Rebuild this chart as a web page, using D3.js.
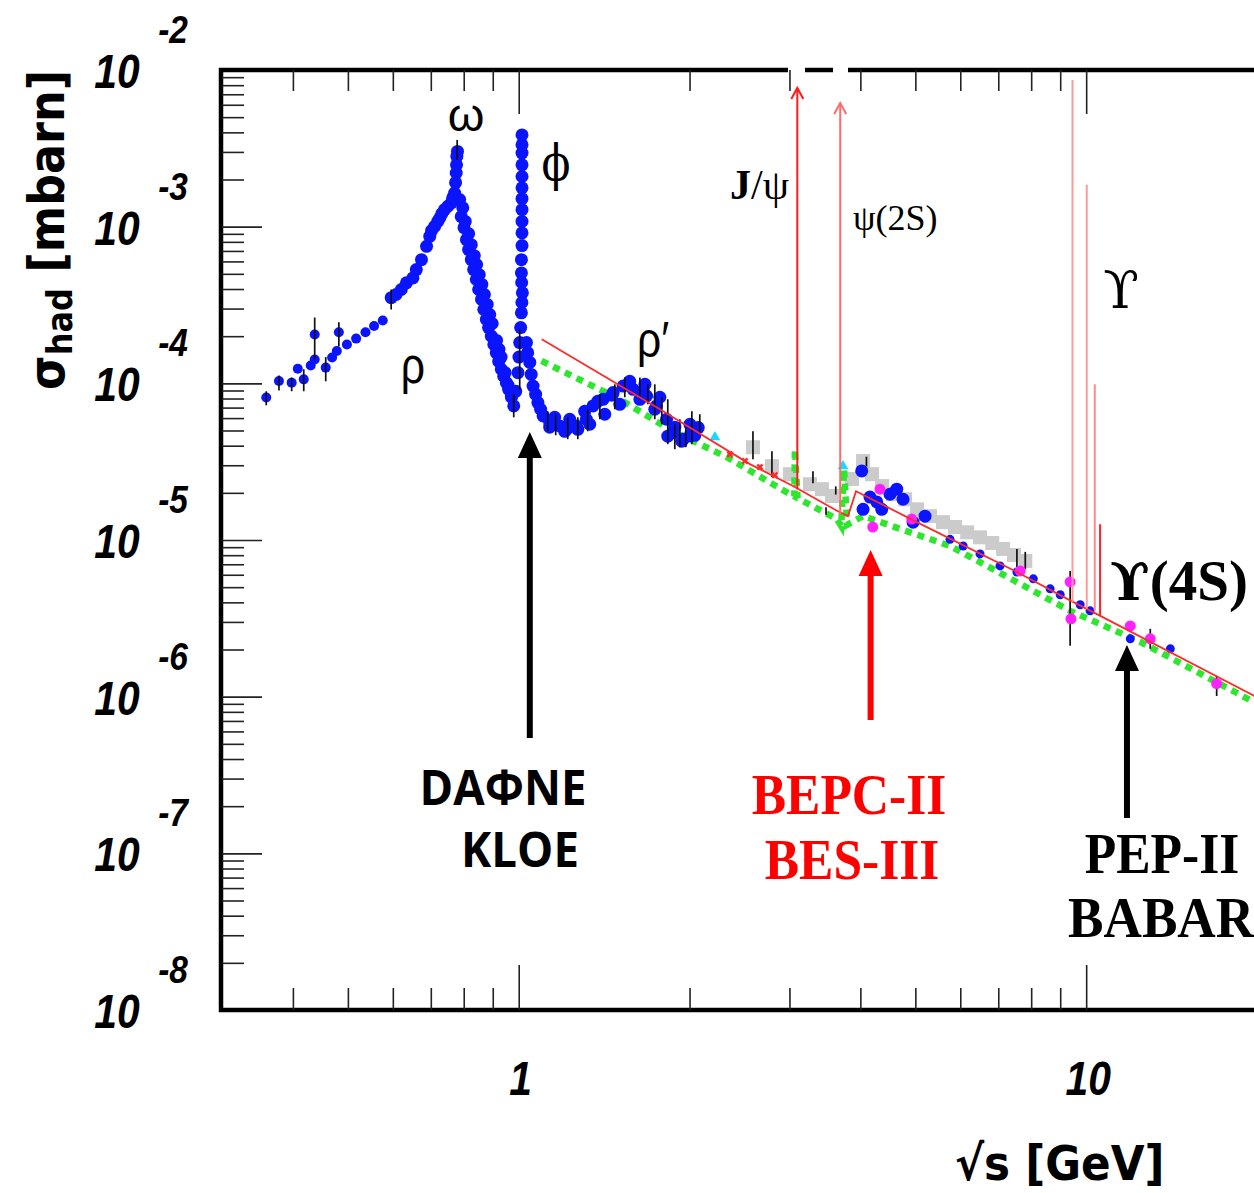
<!DOCTYPE html>
<html>
<head>
<meta charset="utf-8">
<script src="https://cdn.jsdelivr.net/npm/d3@7"></script>
<style>
  body { margin: 0; background: #fff; }
</style>
</head>
<body>
<div id="chart"></div>
<script>

// ---- data (sqrt(s) in GeV, sigma in mbarn) ----

// blue points: low energy curve (rho, omega, phi, rho') and scattered points above 2 GeV
let blueE = [
  0.359, 0.378, 0.398, 0.408, 0.418, 0.430, 0.437, 0.437, 0.457, 0.469, 0.478, 0.482, 0.498,
  0.517, 0.537, 0.556, 0.576, 0.596, 0.608, 0.621, 0.634, 0.651, 0.660, 0.674, 0.688, 0.697,
  0.702, 0.711, 0.720, 0.726, 0.732, 0.740, 0.750, 0.761, 0.765, 0.771, 0.774, 0.776, 0.777,
  0.778, 0.780, 0.787, 0.792, 0.797, 0.801, 0.805, 0.809, 0.816, 0.816, 0.825, 0.825, 0.833,
  0.835, 0.842, 0.843, 0.850, 0.852, 0.860, 0.861, 0.868, 0.870, 0.877, 0.880, 0.885, 0.889,
  0.895, 0.898, 0.904, 0.913, 0.914, 0.922, 0.923, 0.931, 0.932, 0.941, 0.946, 0.951, 0.958,
  0.960, 0.971, 0.971, 0.980,
  0.988, 0.997, 1.001, 1.004, 1.008, 1.011, 1.013, 1.015, 1.012, 1.011, 1.011, 1.0135, 1.0135,
  1.0135, 1.0135, 1.0135, 1.0135, 1.0135, 1.0135, 1.0135, 1.0135, 1.0135,
  1.032, 1.037, 1.046, 1.052, 1.060, 1.071, 1.081, 1.093, 1.104, 1.134, 1.181, 1.214, 1.264,
  1.316, 1.352, 1.408, 1.467, 1.528, 1.591, 1.657, 1.680, 1.749, 1.822, 1.872, 1.949, 2.003, 2.072,
  1.134, 1.205, 1.271, 1.334, 1.418, 1.507, 1.635, 1.737, 1.831, 1.938, 2.043,
  1.157, 1.230, 1.307, 1.378, 1.459, 1.569, 1.669, 1.773, 1.884, 2.003,
  4.022, 4.159, 4.044, 4.275, 4.362, 4.511, 4.636, 4.756, 4.954, 5.200, 5.755, 6.07, 6.50,
  7.05, 7.55, 8.07, 8.64, 9.00, 9.76, 10.16, 11.96, 14.07
];
let blueSigma = [
  8.11e-5, 1.035e-4, 1.01e-4, 1.24e-4, 1.06e-4, 1.30e-4, 1.42e-4, 2.05e-4, 1.26e-4, 1.46e-4, 1.61e-4, 2.12e-4, 1.77e-4,
  1.93e-4, 2.12e-4, 2.32e-4, 2.52e-4, 3.52e-4, 3.69e-4, 3.97e-4, 4.38e-4, 4.71e-4, 5.32e-4, 6.16e-4, 7.49e-4, 8.68e-4,
  9.43e-4, 1.005e-3, 1.08e-3, 1.136e-3, 1.21e-3, 1.283e-3, 1.35e-3, 1.42e-3, 1.53e-3, 1.64e-3, 1.91e-3, 2.20e-3, 2.48e-3,
  2.81e-3, 3.02e-3, 1.49e-3, 1.16e-3, 1.32e-3, 9.86e-4, 1.08e-3, 8.26e-4, 7.14e-4, 9.02e-4, 6.16e-4, 7.68e-4, 5.32e-4,
  6.53e-4, 4.60e-4, 5.73e-4, 3.97e-4, 4.94e-4, 3.43e-4, 4.28e-4, 2.96e-4, 3.69e-4, 2.56e-4, 3.19e-4, 2.27e-4, 2.75e-4,
  2.00e-4, 2.41e-4, 1.77e-4, 1.57e-4, 1.88e-4, 1.38e-4, 1.65e-4, 1.47e-4, 1.23e-4, 1.11e-4, 1.17e-4, 1.01e-4, 9.70e-5,
  9.16e-5, 8.30e-5, 8.15e-5, 7.17e-5,
  8.89e-5, 1.17e-4, 1.47e-4, 1.82e-4, 2.27e-4, 2.82e-4, 3.28e-4, 3.78e-4, 4.40e-4, 5.07e-4, 6.16e-4, 7.57e-4, 9.12e-4,
  1.08e-3, 1.283e-3, 1.51e-3, 1.77e-3, 2.09e-3, 2.48e-3, 2.95e-3, 3.33e-3, 3.85e-3,
  1.82e-4, 1.57e-4, 1.36e-4, 1.14e-4, 9.61e-5, 8.51e-5, 7.54e-5, 6.83e-5, 6.19e-5, 5.62e-5, 5.35e-5, 5.09e-5, 5.35e-5,
  5.90e-5, 7.17e-5, 7.91e-5, 8.73e-5, 9.61e-5, 9.16e-5, 8.93e-5, 8.30e-5, 7.17e-5, 5.90e-5, 4.85e-5, 4.40e-5, 4.62e-5, 5.22e-5,
  5.25e-5, 4.94e-5, 5.09e-5, 5.48e-5, 6.35e-5, 7.35e-5, 7.91e-5, 6.83e-5, 4.60e-5, 4.27e-5, 4.66e-5,
  6.07e-5, 5.90e-5, 6.63e-5, 7.68e-5, 8.39e-5, 1.03e-4, 9.86e-5, 8.15e-5, 5.25e-5, 5.48e-5,
  2.76e-5, 1.88e-5, 1.57e-5, 1.75e-5, 1.57e-5, 1.96e-5, 2.11e-5, 1.82e-5, 1.30e-5, 1.42e-5, 1.01e-5, 9.16e-6, 8.15e-6,
  6.83e-6, 6.25e-6, 5.65e-6, 4.88e-6, 4.47e-6, 3.86e-6, 3.53e-6, 2.34e-6, 2.02e-6
];

// grey boxes (2.5 - 8 GeV)
let greyE = [2.587, 2.794, 3.006, 3.261, 3.422, 3.565, 3.867, 4.044, 4.194, 4.367, 4.567, 4.796,
  5.035, 5.307, 5.594, 5.874, 6.17, 6.50, 6.83, 7.14, 7.46, 7.81];
let greySigma = [3.91e-5, 2.96e-5, 2.63e-5, 2.27e-5, 2.11e-5, 1.91e-5, 2.45e-5, 3.19e-5, 2.63e-5, 2.21e-5, 1.96e-5, 1.82e-5,
  1.57e-5, 1.42e-5, 1.30e-5, 1.21e-5, 1.12e-5, 1.04e-5, 9.57e-6, 8.77e-6, 8.02e-6, 7.35e-6];

// magenta and cyan points
let magentaE = [4.206, 4.332, 4.927, 7.65, 9.37, 9.40, 11.96, 12.97, 16.98];
let magentaSigma = [1.21e-5, 2.11e-5, 1.36e-5, 6.35e-6, 5.40e-6, 3.14e-6, 2.83e-6, 2.34e-6, 1.21e-6];
let cyanE = [2.217, 3.728];
let cyanSigma = [4.53e-5, 2.96e-5];

// error bars
let errE =  [0.359, 0.378, 0.398, 0.418, 0.437, 0.457, 0.482, 0.596, 0.779, 0.980, 1.004,
  1.125, 1.162, 1.220, 1.271, 1.323, 1.390, 1.477, 1.538, 1.635, 1.689, 1.737, 1.787, 1.831,
  1.884, 1.923, 1.970, 2.019, 2.085,
  2.587, 2.794, 3.30, 3.48, 3.62, 4.10, 7.55, 7.81, 9.37, 12.97, 16.98];
let errLo = [7.24e-5, 9.0e-5, 8.9e-5, 8.9e-5, 1.42e-4, 1.03e-4, 1.72e-4, 2.96e-4, 2.67e-3, 6.07e-5, 9.16e-5,
  4.94e-5, 4.66e-5, 4.40e-5, 4.40e-5, 4.94e-5, 5.90e-5, 6.83e-5, 8.15e-5, 7.91e-5, 7.35e-5, 5.90e-5, 5.48e-5, 4.09e-5,
  3.80e-5, 3.91e-5, 3.91e-5, 4.09e-5, 4.73e-5,
  3.28e-5, 2.52e-5, 2.30e-5, 1.45e-5, 1.95e-5, 2.95e-5, 6.73e-6, 6.5e-6, 2.11e-6, 2.02e-6, 1.01e-6];
let errHi = [8.9e-5, 1.12e-4, 1.09e-4, 1.23e-4, 2.63e-4, 1.47e-4, 2.45e-4, 3.97e-4, 3.58e-3, 8.51e-5, 2.21e-4,
  6.63e-5, 6.35e-5, 6.07e-5, 6.07e-5, 6.83e-5, 8.51e-5, 9.86e-5, 1.09e-4, 1.09e-4, 9.86e-5, 9.86e-5, 8.15e-5, 7.91e-5,
  5.48e-5, 5.90e-5, 5.25e-5, 6.63e-5, 6.35e-5,
  4.94e-5, 3.69e-5, 2.75e-5, 1.62e-5, 2.20e-5, 3.40e-5, 8.77e-6, 8.4e-6, 6.35e-6, 2.71e-6, 1.36e-6];

// green dotted curve
let greenE = [1.097, 1.507, 1.869, 2.327, 3.006, 3.06, 3.067, 3.10, 3.638, 3.70, 3.744, 3.79, 4.044, 5.755, 9.37, 12.45, 19.7];
let greenSigma = [1.39e-4, 7.91e-5, 4.94e-5, 3.38e-5, 1.96e-5, 1.90e-5, 3.80e-5, 1.85e-5, 1.36e-5, 1.23e-5, 2.83e-5, 1.25e-5, 1.42e-5, 9.16e-6, 3.53e-6, 2.24e-6, 9.29e-7];

// red continuum curve and red markers on it
let redE = [1.098, 1.773, 2.555, 3.043, 3.624, 3.804, 3.93, 5.03, 7.55, 9.33, 10.59, 19.8];
let redSigma = [1.91e-4, 6.83e-5, 3.05e-5, 2.21e-5, 1.55e-5, 1.42e-5, 2.05e-5, 1.30e-5, 6.25e-6, 4.15e-6, 3.28e-6, 1.01e-6];
let redMarkE = [2.356, 2.504, 2.661, 2.828];
let redMarkSigma = [3.53e-5, 3.19e-5, 2.92e-5, 2.59e-5];

// narrow resonances drawn as spikes
let resName = ["J/psi", "psi(2S)", "Y(1S)", "Y(2S)", "Y(3S)", "Y(4S)"];
let resE = [3.097, 3.686, 9.46, 10.023, 10.355, 10.58];
let resBase = [2.11e-5, 1.46e-5, 4.03e-6, 3.64e-6, 3.53e-6, 3.28e-6];
let resPeak = [7.68e-3, 6.16e-3, 8.63e-3, 1.85e-3, 9.86e-5, 1.26e-5];

// axis ticks
let xMajor = [1, 10];
let xMinor = [0.4, 0.5, 0.6, 0.7, 0.8, 0.9, 2, 3, 4, 5, 6, 7, 8, 9];
let yMajor = [1e-7, 1e-6, 1e-5, 1e-4, 1e-3];
let yExp = [-2, -3, -4, -5, -6, -7, -8];

// ---- layout ----
let svgWidth = 1254;
let svgHeight = 1193;
let plot = { left: 222, right: 1257, top: 70, bottom: 1010 };

let x = d3.scaleLog().domain([0.3, 20]).range([plot.left, plot.right]);
let y = d3.scaleLog().domain([1e-8, 1e-2]).range([plot.bottom, plot.top]);

let yMinor = [];
d3.range(-8, -2).forEach(function(d) {
  d3.range(2, 10).forEach(function(k) { yMinor.push(k * Math.pow(10, d)); });
});

let svg = d3.select("#chart")
  .append("svg")
  .attr("width", svgWidth)
  .attr("height", svgHeight)
  .style("display", "block");

svg.append("rect").attr("width", svgWidth).attr("height", svgHeight).attr("fill", "#fff");

svg.append("clipPath").attr("id", "clip")
  .append("rect")
  .attr("x", plot.left).attr("y", plot.top)
  .attr("width", plot.right - plot.left).attr("height", plot.bottom - plot.top);

let chartGroup = svg.append("g").attr("clip-path", "url(#clip)");

// grey boxes
chartGroup.selectAll(".grey")
  .data(d3.zip(greyE, greySigma))
  .enter()
  .append("rect")
  .attr("x", d => x(d[0]) - 7)
  .attr("y", d => y(d[1]) - 7)
  .attr("width", 14)
  .attr("height", 14)
  .attr("fill", "#cbcbcb");

// green dotted curve
chartGroup.append("path")
  .datum(d3.zip(greenE, greenSigma))
  .attr("d", d3.line().x(d => x(d[0])).y(d => y(d[1])))
  .attr("fill", "none")
  .attr("stroke", "#2ee62e")
  .attr("stroke-width", 6.5)
  .attr("stroke-dasharray", "7,6");

// blue points (isolated low energy and high energy points are smaller)
chartGroup.selectAll(".blue")
  .data(d3.zip(blueE, blueSigma))
  .enter()
  .append("circle")
  .attr("cx", d => x(d[0]))
  .attr("cy", d => y(d[1]))
  .attr("r", d => d[0] < 0.59 ? 5 : (d[0] > 5.5 ? 4.5 : 6.5))
  .attr("fill", "#0a14ff");

// error bars
chartGroup.selectAll(".err")
  .data(d3.zip(errE, errLo, errHi))
  .enter()
  .append("line")
  .attr("x1", d => x(d[0])).attr("x2", d => x(d[0]))
  .attr("y1", d => y(d[1])).attr("y2", d => y(d[2]))
  .attr("stroke", "#111")
  .attr("stroke-width", 1.7);

// magenta dots
chartGroup.selectAll(".mag")
  .data(d3.zip(magentaE, magentaSigma))
  .enter()
  .append("circle")
  .attr("cx", d => x(d[0]))
  .attr("cy", d => y(d[1]))
  .attr("r", 5.5)
  .attr("fill", "#ff22ff");

// cyan triangles
chartGroup.selectAll(".cyan")
  .data(d3.zip(cyanE, cyanSigma))
  .enter()
  .append("path")
  .attr("d", d3.symbol().type(d3.symbolTriangle).size(50))
  .attr("transform", d => `translate(${x(d[0])},${y(d[1])})`)
  .attr("fill", "#19d9ff");

// red continuum
chartGroup.append("path")
  .datum(d3.zip(redE, redSigma))
  .attr("d", d3.line().x(d => x(d[0])).y(d => y(d[1])))
  .attr("fill", "none")
  .attr("stroke", "#ff2a2a")
  .attr("stroke-width", 1.8);

chartGroup.selectAll(".redmark")
  .data(d3.zip(redMarkE, redMarkSigma))
  .enter()
  .append("path")
  .attr("d", d3.symbol().type(d3.symbolCross).size(30))
  .attr("transform", d => `translate(${x(d[0])},${y(d[1])}) rotate(45)`)
  .attr("fill", "#ff2a2a");

// resonance spikes
let spikeColor = ["#ff1a1a", "#ff6a6a", "#ff9a9a", "#ff9a9a", "#ff8a8a", "#ff2020"];
chartGroup.selectAll(".spike")
  .data(d3.range(resE.length))
  .enter()
  .append("line")
  .attr("x1", i => x(resE[i])).attr("x2", i => x(resE[i]))
  .attr("y1", i => y(resBase[i])).attr("y2", i => y(resPeak[i]))
  .attr("stroke", i => spikeColor[i])
  .attr("stroke-width", 2);

// open arrow heads on J/psi and psi(2S)
[0, 1].forEach(function(i) {
  let px = x(resE[i]), py = y(resPeak[i]);
  svg.append("path")
    .attr("d", `M${px - 6},${py + 11} L${px},${py} L${px + 6},${py + 11}`)
    .attr("fill", "none")
    .attr("stroke", spikeColor[i])
    .attr("stroke-width", 2);
});

// frame
svg.append("rect")
  .attr("x", plot.left - 1).attr("y", plot.top)
  .attr("width", plot.right - plot.left + 1).attr("height", plot.bottom - plot.top)
  .attr("fill", "none")
  .attr("stroke", "#000")
  .attr("stroke-width", 4.5);

// breaks in the top frame where the spikes leave the plot
svg.append("rect").attr("x", 788).attr("y", 66).attr("width", 17).attr("height", 8).attr("fill", "#fff");
svg.append("rect").attr("x", 833).attr("y", 66).attr("width", 15).attr("height", 8).attr("fill", "#fff");

// ticks
function tickAxis(axis, transform, values, size) {
  let g = svg.append("g")
    .attr("transform", transform)
    .call(axis.tickValues(values).tickSize(size).tickFormat(""));
  g.select(".domain").remove();
  g.selectAll(".tick line").attr("stroke", "#222").attr("stroke-width", 1.6);
}
tickAxis(d3.axisBottom(x), `translate(0,${plot.bottom})`, xMinor, -22);
tickAxis(d3.axisBottom(x), `translate(0,${plot.bottom})`, xMajor, -45);
tickAxis(d3.axisTop(x), `translate(0,${plot.top})`, xMinor, -21);
tickAxis(d3.axisTop(x), `translate(0,${plot.top})`, xMajor, -44);
tickAxis(d3.axisLeft(y), `translate(${plot.left},0)`, yMinor, -22);
tickAxis(d3.axisLeft(y), `translate(${plot.left},0)`, yMajor, -40);

// text helper
function label(px, py, str, o) {
  return svg.append("text")
    .attr("transform", `translate(${px},${py}) scale(${o.sx || 1},${o.sy || 1})`)
    .attr("text-anchor", o.anchor || "middle")
    .style("font-family", o.family || "'Liberation Sans', Arial, sans-serif")
    .style("font-size", (o.size || 40) + "px")
    .style("font-weight", o.weight || "normal")
    .style("font-style", o.style || "normal")
    .attr("fill", o.color || "#000")
    .text(str);
}

// tick labels
let tickFont = { family: "'Liberation Sans', Arial, sans-serif", weight: "bold", style: "italic" };
yExp.forEach(function(e) {
  let py = y(Math.pow(10, e));
  label(117, py + 18, "10", Object.assign({ size: 48, sx: 0.85 }, tickFont));
  label(173, py - 27, String(e), Object.assign({ size: 38, sx: 0.88 }, tickFont));
});
xMajor.forEach(function(v) {
  label(x(v) + 2, 1095, String(v), Object.assign({ size: 48, sx: 0.85 }, tickFont));
});

// axis titles
let yTitle = svg.append("text")
  .attr("transform", "translate(64,390) rotate(-90) scale(0.89,1)")
  .style("font-family", "'DejaVu Sans', Verdana, sans-serif")
  .style("font-weight", "bold")
  .style("font-size", "50px");
yTitle.append("tspan").text("σ");
yTitle.append("tspan").attr("dy", 8).style("font-size", "36px").text("had");
yTitle.append("tspan").attr("dy", -8).text(" [mbarn]");

label(955, 1180, "√s [GeV]", { family: "'DejaVu Sans', Verdana, sans-serif", weight: "bold", size: 48, sx: 0.91, anchor: "start" });

// resonance names
let serif = "'Liberation Serif', 'Times New Roman', serif";
label(466, 131, "ω", { size: 47 });
label(556, 180, "ϕ", { size: 50, family: "'DejaVu Serif', serif", sx: 0.85 });
label(413, 383, "ρ", { size: 52, sx: 0.82 });
label(637, 357, "ρ′", { size: 50, sx: 0.85, anchor: "start" });
let jpsi = svg.append("text")
  .attr("transform", "translate(730,199)")
  .style("font-family", serif)
  .style("font-size", "42px");
jpsi.append("tspan").style("font-weight", "bold").text("J");
jpsi.append("tspan").text("/ψ");
label(853, 230, "ψ(2S)", { size: 36, family: serif, anchor: "start" });
label(1121, 308, "ϒ", { size: 52, family: "'DejaVu Serif', serif" });
let ups = svg.append("text")
  .attr("transform", "translate(1110,600)")
  .style("font-family", serif)
  .style("font-weight", "bold")
  .style("font-size", "57px");
ups.append("tspan").style("font-family", "'DejaVu Serif', serif").style("font-size", "52px").text("ϒ");
ups.append("tspan").text("(4S)");

// facility pointers
let pointers = [
  { e: 1.046, tip: 432, end: 738, color: "#000" },
  { e: 4.17, tip: 550, end: 720, color: "#ff0000" },
  { e: 11.8, tip: 645, end: 818, color: "#000" }
];
pointers.forEach(function(p) {
  let px = x(p.e);
  svg.append("line")
    .attr("x1", px).attr("x2", px)
    .attr("y1", p.tip + 20).attr("y2", p.end)
    .attr("stroke", p.color)
    .attr("stroke-width", 6);
  svg.append("path")
    .attr("d", `M${px},${p.tip} L${px - 12},${p.tip + 26} L${px + 12},${p.tip + 26} Z`)
    .attr("fill", p.color);
});

let sans = "'Open Sans', 'Noto Sans', sans-serif";
label(503, 805, "DAΦNE", { size: 48, family: sans, weight: "bold", sx: 0.95 });
label(520, 867, "KLOE", { size: 48, family: sans, weight: "bold", sx: 0.95 });
label(849, 814, "BEPC-II", { size: 56, family: serif, weight: "bold", sx: 0.92, color: "#ff0000" });
label(852, 879, "BES-III", { size: 56, family: serif, weight: "bold", sx: 0.92, color: "#ff0000" });
label(1162, 873, "PEP-II", { size: 56, family: serif, weight: "bold", sx: 0.92 });
label(1068, 937, "BABAR", { size: 56, family: serif, weight: "bold", sx: 0.95, anchor: "start" });

</script>
</body>
</html>
